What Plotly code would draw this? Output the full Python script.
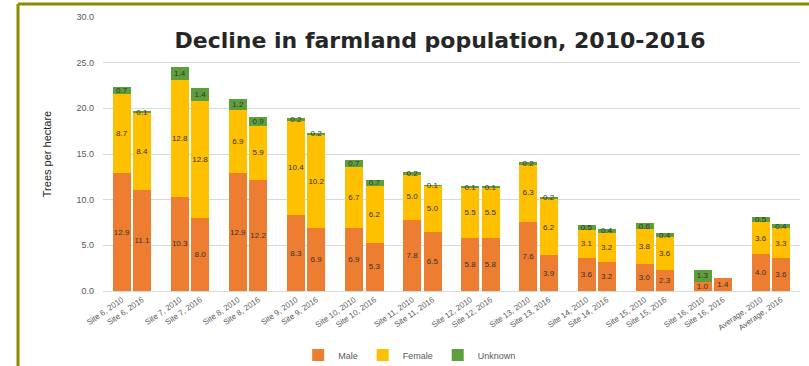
import plotly.graph_objects as go

sites = ["Site 6", "Site 7", "Site 8", "Site 9", "Site 10", "Site 11", "Site 12",
         "Site 13", "Site 14", "Site 15", "Site 16", "Average"]
years = ["2010", "2016"]

male_2010 = [12.9, 10.3, 12.9, 8.3, 6.9, 7.8, 5.8, 7.6, 3.6, 3.0, 1.0, 4.0]
female_2010 = [8.7, 12.8, 6.9, 10.4, 6.7, 5.0, 5.5, 6.3, 3.1, 3.8, 0.0, 3.6]
unknown_2010 = [0.7, 1.4, 1.2, 0.2, 0.7, 0.2, 0.1, 0.2, 0.5, 0.6, 1.3, 0.5]
male_2016 = [11.1, 8.0, 12.2, 6.9, 5.3, 6.5, 5.8, 3.9, 3.2, 2.3, 1.4, 3.6]
female_2016 = [8.4, 12.8, 5.9, 10.2, 6.2, 5.0, 5.5, 6.2, 3.2, 3.6, 0.0, 3.3]
unknown_2016 = [0.1, 1.4, 0.9, 0.2, 0.7, 0.1, 0.1, 0.2, 0.4, 0.4, 0.0, 0.4]

COL_MALE = "#ED7D31"
COL_FEMALE = "#FFC000"
COL_UNK = "#5E9E3C"

OFF = 0.175
BW = 0.31

xs, labels = [], []
for i, s in enumerate(sites):
    for j, yr in enumerate(years):
        xs.append(i + (-OFF if j == 0 else OFF))
        labels.append(f"{s}, {yr}")


def interleave(a, b):
    out = []
    for p, q in zip(a, b):
        out += [p, q]
    return out


series = [
    ("Male", interleave(male_2010, male_2016), COL_MALE),
    ("Female", interleave(female_2010, female_2016), COL_FEMALE),
    ("Unknown", interleave(unknown_2010, unknown_2016), COL_UNK),
]

fig = go.Figure()
for name, vals, col in series:
    fig.add_trace(go.Bar(
        x=xs, y=vals, name=name, width=BW,
        marker=dict(color=col, line=dict(width=0)),
        text=[f"{v:.1f}" if v > 0 else "" for v in vals],
        textposition="inside", insidetextanchor="middle",
        textangle=0,
        textfont=dict(size=8, color="#333333", family="Liberation Sans"),
        hoverinfo="skip",
    ))

fig.update_layout(
    barmode="stack",
    width=809, height=366,
    margin=dict(l=103, r=9, t=17, b=75, autoexpand=False),
    paper_bgcolor="white", plot_bgcolor="white",
    uniformtext=dict(minsize=7, mode="show"),
    title=dict(text="<b>Decline in farmland population, 2010-2016</b>",
               x=0.544, xanchor="center", y=0.89, yanchor="middle",
               font=dict(family="DejaVu Sans", size=22, color="#262626")),
    showlegend=True,
    legend=dict(orientation="h", traceorder="normal",
                x=0.44, xanchor="center", y=-0.234, yanchor="middle",
                font=dict(size=9, color="#595959", family="Liberation Sans"),
                itemwidth=30, tracegroupgap=0),
    font=dict(family="Liberation Sans"),
)

fig.update_xaxes(
    range=[-0.5, len(sites) - 0.5], automargin=False,
    tickmode="array", tickvals=xs, ticktext=labels,
    tickangle=-35, tickfont=dict(size=8, color="#595959"),
    showgrid=False, zeroline=False,
    showline=True, linecolor="#D9D9D9", linewidth=1, ticks="",
)
fig.update_yaxes(
    range=[0, 30], dtick=5, tickformat=".1f", automargin=False,
    tickfont=dict(size=9, color="#595959"),
    ticklabelstandoff=8,
    showgrid=True, gridcolor="#D9D9D9", gridwidth=1,
    zeroline=False, showline=False, ticks="",
    title=dict(text="Trees per hectare", font=dict(size=11, color="#262626"), standoff=22),
)

# olive frame (top and left edges)
fig.add_shape(type="line", xref="paper", yref="paper",
              x0=(18 - 103) / 697, x1=1.02, y0=1 + (17 - 4) / 274, y1=1 + (17 - 4) / 274,
              line=dict(color="#8C8C00", width=3))
fig.add_shape(type="line", xref="paper", yref="paper",
              x0=(18 - 103) / 697, x1=(18 - 103) / 697, y0=1 + (17 - 4) / 274, y1=-0.3,
              line=dict(color="#8C8C00", width=3))

fig.write_html("out.html")
